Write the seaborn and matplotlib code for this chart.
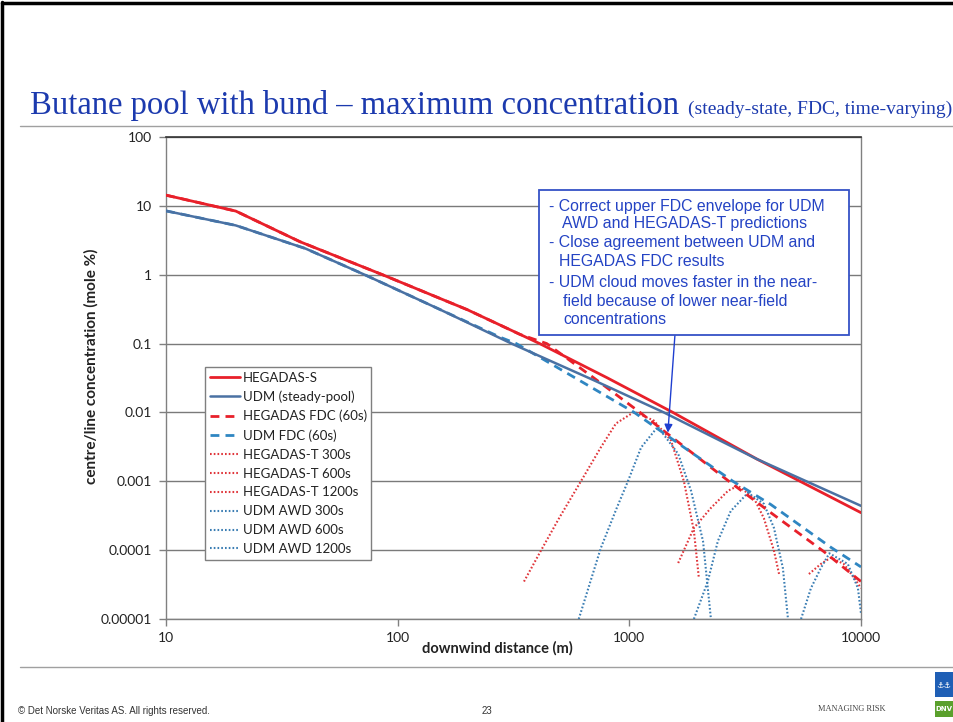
import matplotlib
matplotlib.use("Agg")
import pandas as pd
import matplotlib.pyplot as plt
import seaborn as sns
from matplotlib.patches import Rectangle
from matplotlib.lines import Line2D

# --- data (downwind distance m, concentration mole %) ---
hs_x = [10, 20, 38, 86, 200, 410, 800, 1542, 3556, 10000]
hs_y = [14.3, 8.4, 3.0, 1.0, 0.31, 0.1, 0.032, 0.01, 0.0021, 0.00035]

udm_x = [10, 20, 40, 72, 150, 310, 700, 1409, 3556, 10000]
udm_y = [8.45, 5.2, 2.4, 1.0, 0.32, 0.1, 0.0295, 0.01, 0.0021, 0.00044]

hfdc_x = [10, 20, 38, 86, 200, 337, 440, 700, 1112, 1700, 2690, 4080, 6920, 10000]
hfdc_y = [14.3, 8.4, 3.0, 1.0, 0.31, 0.136, 0.1, 0.032, 0.01, 0.0033, 0.001, 0.00035, 0.000095, 0.000035]

ufdc_x = [10, 20, 40, 72, 150, 278, 325, 650, 1050, 1700, 2800, 4080, 7410, 10000]
ufdc_y = [8.45, 5.2, 2.4, 1.0, 0.32, 0.123, 0.1, 0.0257, 0.01, 0.0032, 0.001, 0.00046, 0.00011, 0.000057]

ht300_x = [351, 415, 500, 618, 753, 875, 1050, 1277, 1514, 1720, 1900, 1995]
ht300_y = [3.5e-5, 9.8e-5, 3e-4, 1e-3, 3.1e-3, 6.9e-3, 0.0102, 0.0076, 0.0039, 0.001, 1.9e-4, 4e-5]

ht600_x = [1625, 1900, 2250, 2670, 2945, 3450, 3810, 4210, 4430]
ht600_y = [6.5e-5, 2.1e-4, 4.1e-4, 7.3e-4, 8.6e-4, 5.7e-4, 2.9e-4, 9.8e-5, 4.5e-5]

ht1200_x = [5960, 6710, 7410, 8430, 9310, 10000]
ht1200_y = [4.5e-5, 6.3e-5, 7.8e-5, 6.3e-5, 4e-5, 2.8e-5]

ua300_x = [605, 753, 880, 986, 1124, 1327, 1625, 1846, 2080, 2250]
ua300_y = [1e-5, 1.07e-4, 4e-4, 1e-3, 3.1e-3, 6.2e-3, 2.5e-3, 7.3e-4, 1.35e-4, 1e-5]

ua600_x = [1900, 2180, 2410, 2740, 3250, 3810, 4210, 4600, 4840]
ua600_y = [1e-5, 3.5e-5, 1.35e-4, 3.7e-4, 6.8e-4, 4.7e-4, 2.1e-4, 5.5e-5, 1e-5]

ua1200_x = [5510, 6080, 6710, 7300, 8770, 9700, 10000]
ua1200_y = [1e-5, 2.8e-5, 5.5e-5, 9e-5, 6.3e-5, 2.8e-5, 1.2e-5]

x_ticks = [10, 100, 1000, 10000]
x_tick_labels = ["10", "100", "1000", "10000"]
y_ticks = [1e-5, 1e-4, 1e-3, 1e-2, 1e-1, 1, 10, 100]
y_tick_labels = ["0.00001", "0.0001", "0.001", "0.01", "0.1", "1", "10", "100"]

notes = [
    "- Correct upper FDC envelope for UDM",
    "AWD and HEGADAS-T predictions",
    "- Close agreement between UDM and",
    "HEGADAS FDC results",
    "- UDM cloud moves faster in the near-",
    "field because of lower near-field",
    "concentrations",
]

# --- styles ---
RED = "#e8202a"
UDM = "#4a71a3"
UDM_DASH = "#2f86c2"
RED_DOT = "#e0353a"
BLUE_DOT = "#3a7db3"
NAVY = "#1c3aae"
NOTE = "#2443c4"

sns.set_theme(style="white")
plt.rcParams["font.family"] = ["Lato", "DejaVu Sans"]

W, H = 954, 722
fig = plt.figure(figsize=(W / 100, H / 100), dpi=100)
fig.patch.set_facecolor("white")


def fx(px):
    return px / W


def fy(py):
    return 1 - py / H


ax = fig.add_axes([fx(166), fy(619), (861 - 166) / W, (619 - 137) / H])

dash = (0, (3.2, 2.2))
dot = (0, (0.8, 1.0))
series = [
    ("HEGADAS-S", hs_x, hs_y, RED, "-", 2.0, 5),
    ("UDM (steady-pool)", udm_x, udm_y, UDM, "-", 1.8, 5),
    ("HEGADAS FDC (60s)", hfdc_x, hfdc_y, RED, dash, 2.0, 4),
    ("UDM FDC (60s)", ufdc_x, ufdc_y, UDM_DASH, dash, 2.0, 4),
    ("HEGADAS-T 300s", ht300_x, ht300_y, RED_DOT, dot, 1.5, 3),
    ("HEGADAS-T 600s", ht600_x, ht600_y, RED_DOT, dot, 1.5, 3),
    ("HEGADAS-T 1200s", ht1200_x, ht1200_y, RED_DOT, dot, 1.5, 3),
    ("UDM AWD 300s", ua300_x, ua300_y, BLUE_DOT, dot, 1.5, 3),
    ("UDM AWD 600s", ua600_x, ua600_y, BLUE_DOT, dot, 1.5, 3),
    ("UDM AWD 1200s", ua1200_x, ua1200_y, BLUE_DOT, dot, 1.5, 3),
]

for label, xs, ys, color, ls, lw, z in series:
    df = pd.DataFrame({"x": xs, "y": ys})
    sns.lineplot(data=df, x="x", y="y", ax=ax, color=color, linestyle=ls,
                 linewidth=lw, label=label, estimator=None, sort=False, zorder=z)

ax.set_xscale("log")
ax.set_yscale("log")
ax.set_xlim(10, 10000)
ax.set_ylim(1e-5, 100)
ax.set_xticks(x_ticks, labels=x_tick_labels)
ax.set_yticks(y_ticks, labels=y_tick_labels)
ax.minorticks_off()
ax.set_xlabel("")
ax.set_ylabel("")
ax.tick_params(axis="both", direction="out", length=5, width=1, color="#808080",
               labelsize=10, labelcolor="#222222", bottom=True, left=True)
ax.tick_params(axis="x", pad=4)
ax.tick_params(axis="y", pad=5)
ax.yaxis.grid(True, color="#7a7a7a", linewidth=1)
ax.xaxis.grid(False)
for side in ["left", "right", "bottom"]:
    ax.spines[side].set_color("#808080")
    ax.spines[side].set_linewidth(1)
ax.spines["top"].set_color("#333333")
ax.spines["top"].set_linewidth(1.2)

leg = ax.legend(loc="upper left", bbox_to_anchor=((205 - 166) / 695, (619 - 367) / 482),
                borderaxespad=0, frameon=True, fancybox=False, framealpha=1,
                edgecolor="#7f7f7f", fontsize=9.5, handlelength=2.3, handletextpad=0.2,
                labelspacing=0.52, borderpad=0.35)
leg.get_frame().set_linewidth(1)
for t in leg.get_texts():
    t.set_color("#222222")

# axis titles
fig.text(fx(91), fy(366), "centre/line concentration (mole %)", rotation=90,
         ha="center", va="center", fontsize=11, fontweight="bold", color="#222222")
fig.text(fx(497), fy(648), "downwind distance (m)", ha="center", va="center",
         fontsize=10.5, fontweight="bold", color="#222222")

# annotation box and arrow
fig.add_artist(Rectangle((fx(539), fy(335)), (849 - 539) / W, (335 - 190) / H,
                         transform=fig.transFigure, facecolor="white",
                         edgecolor="#3552c6", linewidth=1.3, zorder=5))
note_x = [549, 562, 549, 559, 549, 563, 563]
note_y = [206, 224, 243, 262, 283, 301, 320]
for txt, px, py in zip(notes, note_x, note_y):
    fig.text(fx(px), fy(py), txt, ha="left", va="center", fontsize=11.4,
             family=["Liberation Sans", "DejaVu Sans"], color=NOTE, zorder=6)
ax.annotate("", xy=(1467, 0.0051), xytext=(1574, 0.135),
            arrowprops=dict(arrowstyle="-|>", color="#1f3fd0", lw=1.0,
                            mutation_scale=12, shrinkA=0, shrinkB=0), zorder=7)

# slide decorations
fig.add_artist(Line2D([fx(2), fx(2)], [fy(2), fy(722)], transform=fig.transFigure,
                      color="black", linewidth=2.5))
fig.add_artist(Line2D([fx(2), fx(954)], [fy(3), fy(3)], transform=fig.transFigure,
                      color="black", linewidth=2.5))
fig.text(fx(30), fy(114), "Butane pool with bund \u2013 maximum concentration",
         ha="left", va="baseline", fontsize=23.5, color=NAVY,
         family=["Liberation Serif", "DejaVu Serif"])
fig.text(fx(688), fy(114), "(steady-state, FDC, time-varying)", ha="left",
         va="baseline", fontsize=14, color=NAVY,
         family=["Liberation Serif", "DejaVu Serif"])
fig.add_artist(Line2D([fx(20), fx(954)], [fy(126), fy(126)], transform=fig.transFigure,
                      color="#a0a0a0", linewidth=1))
fig.add_artist(Line2D([fx(20), fx(954)], [fy(667), fy(667)], transform=fig.transFigure,
                      color="#a0a0a0", linewidth=1))
fig.text(fx(18), fy(711), "\u00a9 Det Norske Veritas AS. All rights reserved.",
         ha="left", va="center", fontsize=7, color="#333333",
         family=["Liberation Sans Narrow", "Liberation Sans"])
fig.text(fx(487), fy(711), "23", ha="center", va="center", fontsize=7, color="#333333",
         family=["Liberation Sans Narrow", "Liberation Sans"])
fig.text(fx(886), fy(709), "MANAGING RISK", ha="right", va="center", fontsize=6,
         color="#444444", family=["Liberation Serif", "DejaVu Serif"])
fig.add_artist(Rectangle((fx(935), fy(697)), 19 / W, 25 / H, transform=fig.transFigure,
                         facecolor="#1f5fb5", edgecolor="none"))
fig.text(fx(944), fy(685), "\u2693\u2693", ha="center", va="center", fontsize=6,
         color="white", family=["DejaVu Sans"])
fig.add_artist(Rectangle((fx(935), fy(717)), 19 / W, 16 / H, transform=fig.transFigure,
                         facecolor="#5aa02c", edgecolor="none"))
fig.text(fx(944), fy(709), "DNV", ha="center", va="center", fontsize=5,
         fontweight="bold", color="white", family=["DejaVu Sans"])

fig.savefig("out.png", dpi=100)
